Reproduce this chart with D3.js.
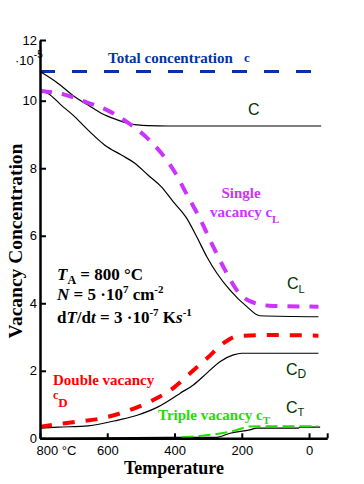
<!DOCTYPE html>
<html><head><meta charset="utf-8">
<script src="https://cdn.jsdelivr.net/npm/d3@7"></script>
<style>body{margin:0;background:#fff} svg{display:block}</style>
</head><body>
<svg id="chart" width="364" height="484"></svg>
<script>
// ---------- data ----------
const xTicks = [800, 600, 400, 200, 0, -54];
const xTickLabels = ["800 °C", "600", "400", "200", "0", ""];
const yTicks = [0, 2, 4, 6, 8, 10, 12];
const yTickLabels = ["0", "2", "4", "6", "8", "10", "12"];

const totalT = [800, -9];
const totalV = [10.96, 10.96];

const cT = [800, 746, 697, 657, 618, 578, 538, 479, 419, -36];
const cV = [10.96, 10.57, 10.13, 9.87, 9.63, 9.46, 9.33, 9.26, 9.25, 9.25];

const cLT = [800, 776, 737, 697, 657, 608, 558, 518, 479, 439, 404, 364, 334, 304, 274, 235, 185, 146, -28];
const cLV = [10.33, 10.24, 9.87, 9.53, 9.13, 8.69, 8.39, 8.15, 7.80, 7.45, 7.01, 6.52, 5.97, 5.38, 4.89, 4.39, 3.90, 3.63, 3.60];

const singleT = [800, 727, 667, 601, 543, 484, 437, 399, 359, 324, 289, 250, 215, 160, 106, -28];
const singleV = [10.32, 10.20, 9.97, 9.72, 9.38, 8.92, 8.42, 7.88, 7.14, 6.50, 5.76, 4.99, 4.39, 4.00, 3.92, 3.90];

const cDT = [800, 746, 657, 568, 509, 449, 399, 384, 344, 304, 265, 225, 200, -28];
const cDV = [0.30, 0.33, 0.37, 0.54, 0.69, 0.93, 1.23, 1.33, 1.58, 1.93, 2.27, 2.47, 2.52, 2.52];

const doubleT = [800, 746, 697, 613, 540, 464, 401, 384, 352, 300, 253, 211, 126, -28];
const doubleV = [0.34, 0.42, 0.48, 0.60, 0.81, 1.13, 1.51, 1.65, 1.94, 2.40, 2.83, 3.03, 3.06, 3.04];

const cTT = [800, 384, 275, 235, 176, 156, 32, 27, -33];
const cTV = [0, 0.03, 0.03, 0.15, 0.25, 0.30, 0.30, 0.33, 0.33];

const tripleT = [379, 324, 280, 220, 176, 140, -27];
const tripleV = [0.03, 0.07, 0.12, 0.23, 0.35, 0.36, 0.36];

// ---------- setup ----------
const svg = d3.select("#chart");
const SERIF = "'Liberation Serif','Times New Roman',serif";
const SANS = "'Liberation Sans',Arial,sans-serif";

const x = d3.scaleLinear().domain([800, -54]).range([40, 327.2]);
const y = d3.scaleLinear().domain([0, 10, 12]).range([438.3, 100.7, 40]);

const zip = (a, b) => a.map((v, i) => [v, b[i]]);
const line = d3.line().x(d => x(d[0])).y(d => y(d[1])).curve(d3.curveMonotoneX);

function curve(T, V, color, width, dash) {
  const p = svg.append("path").datum(zip(T, V)).attr("d", line)
    .attr("fill", "none").attr("stroke", color).attr("stroke-width", width);
  if (dash) p.attr("stroke-dasharray", dash);
  return p;
}

// ---------- curves ----------
curve(totalT, totalV, "#0033aa", 3, "15,17");
curve(cT, cV, "#000", 1.2);
curve(cLT, cLV, "#000", 1.2);
curve(singleT, singleV, "#cc33ff", 4, "12,10");
curve(cDT, cDV, "#000", 1.2);
curve(doubleT, doubleV, "#ff0000", 4, "12,11");
curve(cTT, cTV, "#000", 1.2);
curve(tripleT, tripleV, "#22dd00", 2, "12,5");

// ---------- axes ----------
const xAxis = svg.append("g").attr("transform", `translate(0,${y(0)})`)
  .call(d3.axisBottom(x).tickValues(xTicks).tickSizeInner(-5).tickSizeOuter(0).tickPadding(7)
    .tickFormat((d, i) => xTickLabels[i]));
const yAxis = svg.append("g").attr("transform", `translate(${x(800)},0)`)
  .call(d3.axisLeft(y).tickValues(yTicks).tickSizeInner(-6).tickSizeOuter(0).tickPadding(3)
    .tickFormat((d, i) => yTickLabels[i]));
[xAxis, yAxis].forEach(g => {
  g.select(".domain").attr("stroke", "#000").attr("stroke-width", 2.5);
  g.selectAll(".tick line").attr("stroke", "#000").attr("stroke-width", 2);
  g.selectAll(".tick text").attr("font-family", SANS).attr("font-size", 13).attr("fill", "#000");
});
xAxis.selectAll(".tick").filter(d => d === 800).select("text")
  .attr("text-anchor", "start").attr("x", -4);

// ---------- rich text helper ----------
function rich(px, py, parts, o) {
  const t = svg.append("text").attr("x", px).attr("y", py)
    .attr("font-family", o.family).attr("font-size", o.size)
    .attr("font-weight", o.weight || "normal").attr("fill", o.fill || "#000");
  let cur = 0;
  parts.forEach(p => {
    const s = t.append("tspan").text(p.t);
    const off = p.off || 0;
    if (off !== cur) { s.attr("dy", off - cur); cur = off; }
    if (p.size) s.attr("font-size", p.size);
    if (p.it) s.attr("font-style", "italic");
    if (p.x != null) s.attr("x", p.x);
  });
  return t;
}

// axis multiplier
rich(15, 65, [{t: "·10"}, {t: "-5", size: 10, off: -7}], {family: SANS, size: 13});

// axis titles
svg.append("text").attr("x", 174).attr("y", 474).attr("text-anchor", "middle")
  .attr("font-family", SERIF).attr("font-size", 18).attr("font-weight", "bold").text("Temperature");
svg.append("text").attr("transform", "translate(22,241) rotate(-90)").attr("text-anchor", "middle")
  .attr("font-family", SERIF).attr("font-size", 19.5).attr("font-weight", "bold").text("Vacancy Concentration");

// series annotations
const B = {family: SERIF, size: 15, weight: "bold"};
rich(108, 63, [{t: "Total concentration"}, {t: "c", x: 244, size: 13, off: -1.5}], {...B, fill: "#0033aa"});
rich(221.5, 198, [{t: "Single"}], {...B, fill: "#cc33ff"});
rich(210, 216.7, [{t: "vacancy c"}, {t: "L", size: 11, off: 6}], {...B, fill: "#cc33ff"});
rich(53, 385, [{t: "Double vacancy"}], {...B, fill: "#ff0000"});
rich(53, 399, [{t: "c", size: 12}, {t: "D", size: 13, off: 8}], {...B, fill: "#ff0000"});
rich(158, 420, [{t: "Triple vacancy c"}, {t: "T", size: 11, off: 4}], {...B, fill: "#22dd00"});

// curve labels
const G = {family: SANS, size: 16, fill: "#003300"};
rich(248, 115, [{t: "C"}], G);
rich(287, 289, [{t: "C"}, {t: "L", size: 11, off: 3.5}], G);
rich(286, 375, [{t: "C"}, {t: "D", size: 12, off: 2.5}], G);
rich(286, 413, [{t: "C"}, {t: "T", size: 11, off: 3}], G);

// parameters
const P = {family: SERIF, size: 17, weight: "bold"};
rich(57, 279.5, [{t: "T", it: 1}, {t: "A", size: 12, off: 4}, {t: " = 800 °C", off: 0}], P);
rich(57, 300, [{t: "N", it: 1}, {t: " = 5 ·10"}, {t: "7", size: 11, off: -7}, {t: " cm", off: 0}, {t: "-2", size: 11, off: -7}], P);
rich(57, 322.5, [{t: "d"}, {t: "T", it: 1}, {t: "/d"}, {t: "t", it: 1}, {t: " = 3 ·10"}, {t: "-7", size: 11, off: -7},
  {t: " K", off: 0}, {t: "s", it: 1}, {t: "-1", size: 11, off: -7}], P);
</script>
</body></html>
